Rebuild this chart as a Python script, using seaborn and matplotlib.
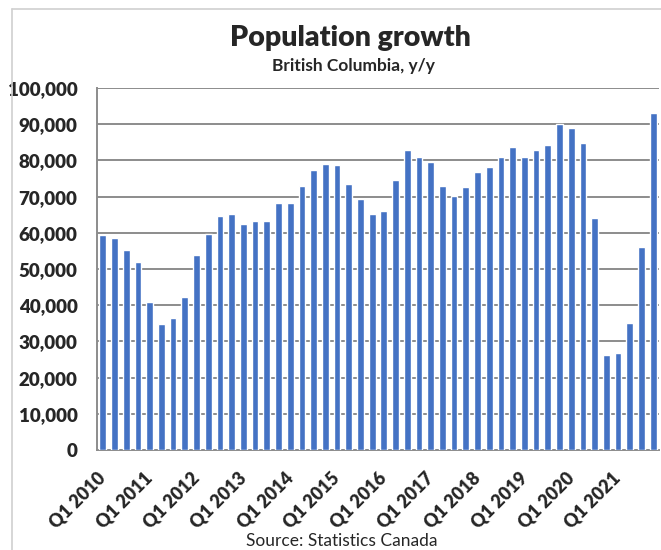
import matplotlib.pyplot as plt
import seaborn as sns
from matplotlib.lines import Line2D
from matplotlib.ticker import FuncFormatter, MultipleLocator

years = list(range(2010, 2022))
quarters = [f"Q{q} {y}" for y in years for q in range(1, 5)]
growth = [
    59400, 58500, 55200, 52000,
    40800, 34700, 36500, 42200,
    53900, 59800, 64600, 65100,
    62300, 63300, 63300, 68300,
    68300, 73000, 77300, 79100,
    78600, 73500, 69300, 65100,
    66000, 74500, 82900, 81000,
    79600, 73000, 70300, 72600,
    76800, 78200, 81000, 83800,
    81000, 82900, 84300, 90000,
    88900, 84800, 64200, 26200,
    26700, 35200, 56200, 93200,
]
tick_labels = [f"Q1 {y}" for y in years]

sns.set_theme(style="white")
plt.rcParams["font.family"] = ["Lato", "DejaVu Sans"]

fig = plt.figure(figsize=(6.61, 5.5), dpi=100)
ax = fig.add_axes([97 / 661, 1 - 450 / 550, 562 / 661, 362 / 550])

sns.barplot(x=quarters, y=growth, color="#4472C4", saturation=1, width=0.58, ax=ax, zorder=3)

ax.set_xlim(-0.5, len(quarters) - 0.5)
ax.set_ylim(0, 100000)
ax.yaxis.set_major_locator(MultipleLocator(10000))
ax.yaxis.set_major_formatter(FuncFormatter(lambda v, _: f"{int(v):,}"))
ax.grid(axis="y", color="#8c8c8c", linewidth=1.4, zorder=0)
ax.set_axisbelow(True)

ax.set_xticks(range(0, len(quarters), 4))
ax.set_xticklabels(tick_labels, rotation=45, ha="right", va="center",
                   rotation_mode="anchor", fontsize=13, fontweight="heavy")
ax.set_xticks([i - 0.5 for i in range(0, len(quarters) + 1, 4)], minor=True)
ax.tick_params(axis="x", which="major", length=0, pad=18)
ax.tick_params(axis="x", which="minor", length=5, color="#8c8c8c", width=1.2, direction="out")
ax.tick_params(axis="y", length=5, color="#8c8c8c", width=1.2, direction="out",
               labelsize=13.5, pad=9)
for lbl in ax.get_yticklabels():
    lbl.set_fontweight("heavy")

for side in ["top", "right"]:
    ax.spines[side].set_visible(False)
for side in ["left", "bottom"]:
    ax.spines[side].set_color("#8c8c8c")
    ax.spines[side].set_linewidth(1.4)

ax.set_xlabel("")
ax.set_ylabel("")

fig.text(0.53, 1 - 38 / 550, "Population growth", ha="center", va="center",
         fontsize=20.5, fontweight="heavy")
fig.text(0.535, 1 - 66 / 550, "British Columbia, y/y", ha="center", va="center",
         fontsize=12.5, fontweight="bold")
fig.text(0.517, 1 - 541 / 550, "Source: Statistics Canada", ha="center", va="center",
         fontsize=12.5)

# light frame around the chart area
fig.add_artist(Line2D([12 / 661, 1], [1 - 9 / 550, 1 - 9 / 550], color="#d0d0d0", linewidth=1.2))
fig.add_artist(Line2D([12 / 661, 12 / 661], [0, 1 - 9 / 550], color="#d0d0d0", linewidth=1.2))

fig.savefig("out.png", dpi=100)
